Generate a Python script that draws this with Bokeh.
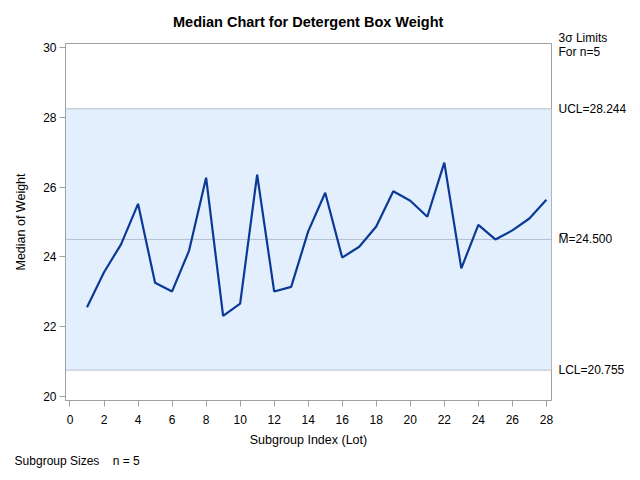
from bokeh.plotting import figure
from bokeh.models import Range1d, BoxAnnotation, Span, Label, FixedTicker, LinearAxis
from bokeh.embed import file_html
from bokeh.resources import INLINE

# ---- data ----
lots = list(range(1, 29))
medians = [22.56, 23.56, 24.36, 25.52, 23.26, 23.01, 24.18, 26.27, 22.31, 22.66,
           26.36, 23.01, 23.14, 24.73, 25.84, 23.98, 24.29, 24.87, 25.88, 25.61,
           25.15, 26.70, 23.67, 24.92, 24.50, 24.76, 25.10, 25.64]
ucl = 28.244
center = 24.500
lcl = 20.755
x_ticks = list(range(0, 29, 2))
y_ticks = [20, 22, 24, 26, 28, 30]
limits_note_pos = 30.086

FONT = "Liberation Sans"
TXT = "#000000"
GRAY = "#a0a0a0"

p = figure(width=629, height=472, output_backend="svg", toolbar_location=None,
           x_range=Range1d(-0.264, 28.30), y_range=Range1d(19.885, 30.115),
           min_border_left=65, min_border_right=77, min_border_top=43,
           min_border_bottom=72)
p.background_fill_color = "white"
p.border_fill_color = "white"
p.outline_line_color = GRAY
p.outline_line_width = 1
p.xgrid.visible = False
p.ygrid.visible = False

# control band and lines
p.add_layout(BoxAnnotation(bottom=lcl, top=ucl, fill_color="#e3effd", fill_alpha=1.0,
                           line_alpha=0, level="underlay"))
for v in (ucl, center, lcl):
    p.add_layout(Span(location=v, dimension="width", line_color="#b4c0d0",
                      line_width=1, level="underlay"))

p.line(lots, medians, line_color="#0b3a96", line_width=2.2)

for ax in (p.xaxis[0], p.yaxis[0]):
    ax.axis_line_color = GRAY
    ax.major_tick_line_color = GRAY
    ax.major_tick_out = 6
    ax.major_tick_in = 0
    ax.minor_tick_line_color = None
    ax.major_label_text_font = FONT
    ax.major_label_text_font_size = "12px"
    ax.major_label_text_color = TXT
    ax.axis_label_text_font = FONT
    ax.axis_label_text_font_size = "12.5px"
    ax.axis_label_text_font_style = "normal"
    ax.axis_label_text_color = TXT

p.xaxis.ticker = FixedTicker(ticks=x_ticks)
p.yaxis.ticker = FixedTicker(ticks=y_ticks)
p.xaxis.axis_label = "Subgroup Index (Lot)"
p.yaxis.axis_label = "Median of Weight"
p.xaxis.major_label_standoff = 8
p.yaxis.major_label_standoff = 3
p.xaxis.axis_label_standoff = 6
p.yaxis.axis_label_standoff = 12

# right-side control limit labels
limit_axis = LinearAxis(ticker=FixedTicker(ticks=[lcl, center, ucl, limits_note_pos]),
                        major_label_overrides={ucl: "UCL=%.3f" % ucl,
                                               center: "M\u0305=%.3f" % center,
                                               lcl: "LCL=%.3f" % lcl,
                                               limits_note_pos: "3\u03c3 Limits\nFor n=5"},
                        axis_line_color=None, major_tick_line_color=None,
                        minor_tick_line_color=None, major_tick_out=0, major_tick_in=0,
                        major_label_standoff=7, major_label_text_font=FONT,
                        major_label_text_font_size="12px", major_label_text_color=TXT,
                        major_label_text_line_height=1.0)
p.add_layout(limit_axis, "right")


def lab(x, y, text, side, size="12px", style="normal", align="left"):
    p.add_layout(Label(x=x, y=y, text=text, text_font=FONT, text_font_size=size,
                       text_font_style=style, text_color=TXT, text_align=align,
                       text_baseline="middle"), side)


lab(14.0, 30.745, "Median Chart for Detergent Box Weight", "above", size="14.5px",
    style="bold", align="center")
lab(-3.255, 18.14, "Subgroup Sizes\u00a0\u00a0\u00a0\u00a0n = 5", "below")

open("out.html", "w").write(file_html(p, INLINE))
